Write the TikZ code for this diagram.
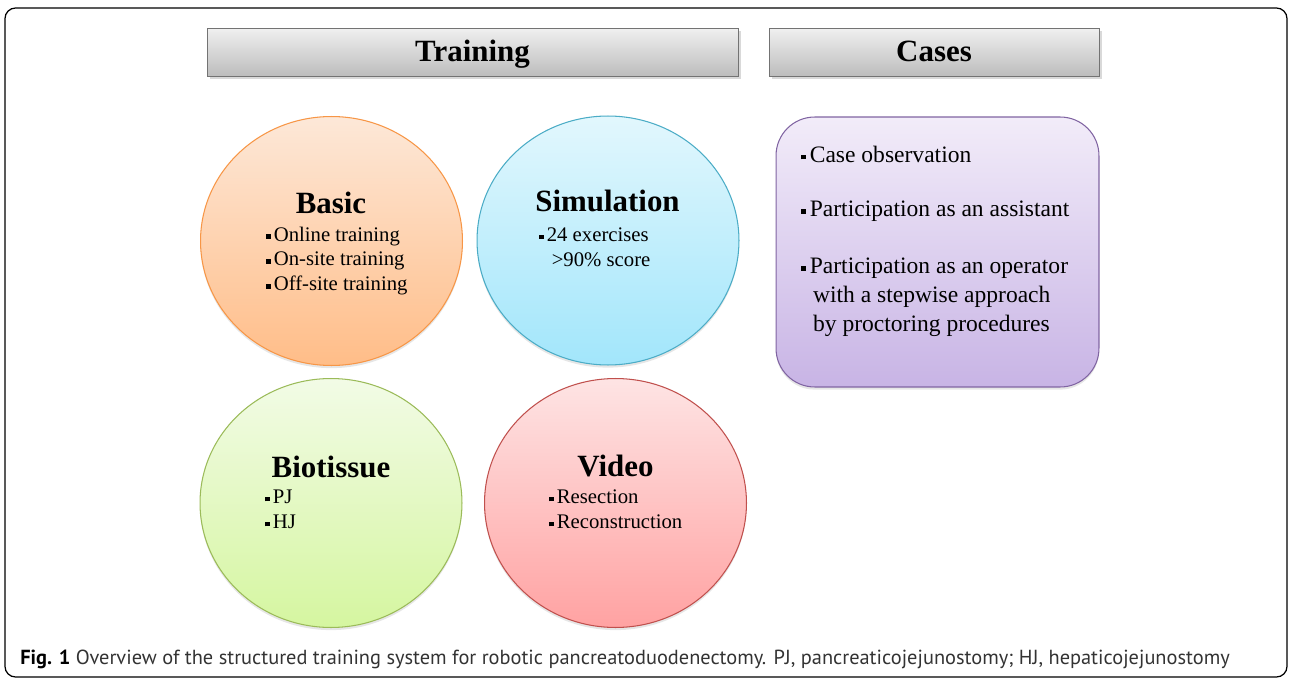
\documentclass[tikz,border=0pt]{standalone}
\usepackage{fontspec}
\setmainfont{Liberation Serif}
\newfontfamily\capfont{PT Sans}
\usetikzlibrary{shapes.geometric, positioning, shadows}

\definecolor{basicline}{HTML}{F79646}
\definecolor{basictop}{HTML}{FDE8D8}
\definecolor{basicbot}{HTML}{FFBD88}
\definecolor{simline}{HTML}{4BACC6}
\definecolor{simtop}{HTML}{E2F7FD}
\definecolor{simbot}{HTML}{A2E6FB}
\definecolor{bioline}{HTML}{9BBB59}
\definecolor{biotop}{HTML}{F2FBE6}
\definecolor{biobot}{HTML}{D5F6A0}
\definecolor{videoline}{HTML}{C0504D}
\definecolor{videotop}{HTML}{FEE4E4}
\definecolor{videobot}{HTML}{FFA2A2}
\definecolor{caseline}{HTML}{8064A2}
\definecolor{casetop}{HTML}{F2ECF9}
\definecolor{casebot}{HTML}{C8B4E5}

% small square bullet
\newcommand{\sqb}{\rule[0.25ex]{0.2em}{0.2em}\hspace{0.16em}}

\tikzstyle{banner} = [rectangle, draw=black!55, top color=black!6, bottom color=black!26, minimum height=0.96cm, font=\fontsize{17.6}{20}\selectfont\bfseries, drop shadow={shadow xshift=1.5pt, shadow yshift=-1.5pt, opacity=0.3}]
\tikzstyle{topic} = [ellipse, minimum width=5.24cm, minimum height=4.98cm, line width=0.6pt, drop shadow={shadow xshift=0pt, shadow yshift=-1.5pt, opacity=0.2}]

\begin{document}
\begin{tikzpicture}[x=0.02cm, y=-0.02cm,
    every node/.style={inner sep=0pt},
    heading/.style={anchor=base, font=\fontsize{17.6}{20}\selectfont\bfseries},
    items/.style={anchor=west, align=left, font=\fontsize{11.8}{14.2}\selectfont},
    caseitem/.style={anchor=west, align=left, font=\fontsize{13.4}{16.4}\selectfont}
  ]
    \useasboundingbox (0,0) rectangle (1292,679);

    % outer frame
    \draw[line width=0.7pt, rounded corners=6pt] (5,8) rectangle (1287,677);

    % Headers
    \node[banner, minimum width=10.62cm] (training) at (472.5,52) {};
    \node[heading] (trainingT) at (training.center |- 0,62) {Training};
    \node[banner, minimum width=6.6cm] (cases) at (934,52) {};
    \node[heading] (casesT) at (cases.center |- 0,62) {Cases};

    % Training circles
    \node[topic, draw=basicline, top color=basictop, bottom color=basicbot] (basic) at (331.5,241) {};
    \node[topic, draw=simline, top color=simtop, bottom color=simbot] (sim) at (608,240.5) {};
    \node[topic, draw=bioline, top color=biotop, bottom color=biobot] (bio) at (331,503) {};
    \node[topic, draw=videoline, top color=videotop, bottom color=videobot] (video) at (615.5,503) {};

    % Circle texts
    \node[heading] (basicT) at (331,214) {Basic};
    \node[items] (basicL) at (266,261) {\sqb Online training\\\sqb On-site training\\\sqb Off-site training};

    \node[heading] (simT) at (607.5,212) {Simulation};
    \node[items] (simL) at (539,247) {\sqb 24 exercises\\\hspace{0.6em}>90\% score};

    \node[heading] (bioT) at (331,477) {Biotissue};
    \node[items] (bioL) at (265,509.5) {\sqb PJ\\\sqb HJ};

    \node[heading] (videoT) at (615.5,476) {Video};
    \node[items] (videoL) at (549,509.5) {\sqb Resection\\\sqb Reconstruction};

    % Cases panel
    \node[rectangle, rounded corners=22pt, draw=caseline, line width=0.6pt, top color=casetop, bottom color=casebot, minimum width=6.46cm, minimum height=5.4cm, drop shadow={shadow xshift=0pt, shadow yshift=-1.5pt, opacity=0.2}] (panel) at (937.5,252) {};
    \node[caseitem] (case1) at (801,154) {\sqb Case observation};
    \node[caseitem] (case2) at (801,211) {\sqb Participation as an assistant};
    \node[caseitem] (case3) at (801,297) {\sqb Participation as an operator\\\hspace{0.5em}with a stepwise approach\\\hspace{0.5em}by proctoring procedures};

    % Caption
    \node[anchor=west, font=\capfont\fontsize{11.6}{13}\selectfont, text=black!80] (caption) at (20,659)
      {{\bfseries\color{black}Fig. 1} Overview of the structured training system for robotic pancreatoduodenectomy. PJ, pancreaticojejunostomy; HJ, hepaticojejunostomy};
\end{tikzpicture}
\end{document}
